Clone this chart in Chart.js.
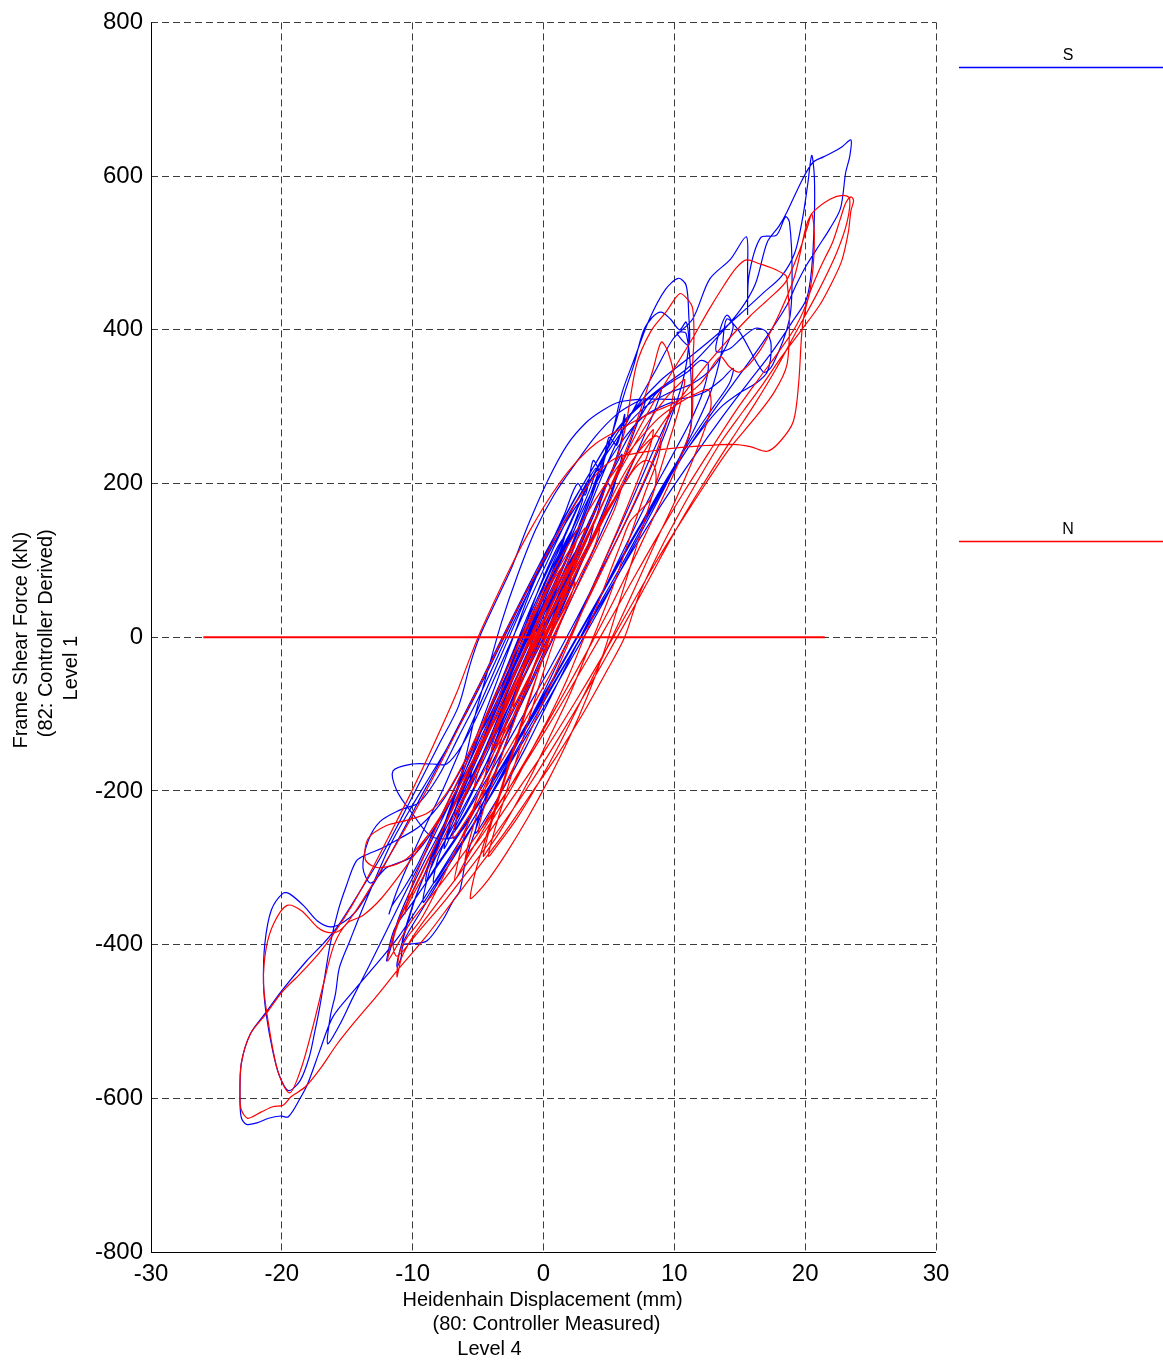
<!DOCTYPE html>
<html><head><meta charset="utf-8">
<script src="https://cdn.jsdelivr.net/npm/chart.js@4.4.1/dist/chart.umd.min.js"></script>
<style>html,body{margin:0;padding:0;background:#fff;}canvas{display:block;}</style>
</head><body>
<canvas id="c" width="1163" height="1362"></canvas>
<script>
const xTicks = [-30, -20, -10, 0, 10, 20, 30];
const yTicks = [-800, -600, -400, -200, 0, 200, 400, 600, 800];
const seriesNames = ['S', 'N'];
const seriesColors = ['#0000ff', '#ff0000'];
const xTitle = ['Heidenhain Displacement (mm)', '(80: Controller Measured)', 'Level 4'];
const yTitle = ['Frame Shear Force (kN)', '(82: Controller Derived)', 'Level 1'];
const zeroLineDisp = [-26, 21.5];
const zeroLineForce = [0, 0];

// S (blue) : [displacement mm, force kN]
const sPoints = [
[0,5],[0.8,35],[1.6,65],[2.2,85],[1.8,62],[0.8,28],[-0.2,-8],[-1.2,-42],[-2,-70],[-1.6,-48],[-0.6,-12],[0.4,25],
[1.4,62],[2.6,105],[3.4,132],[3.8,145],[3.4,120],[2.4,82],[1.2,40],[0,-2],[-1.3,-45],[-2.6,-88],[-3.4,-115],[-3.7,-125],[-3.2,-98],[-2.2,-58],[-1,-15],[0.3,32],
[1.6,80],[2.8,125],[3.8,162],[4.4,178],[4.9,200],[5.3,192],[5.6,212],[5.2,185],[4.2,145],[3,100],[1.6,52],[0.2,5],[-1.2,-42],[-2.7,-92],[-4,-135],[-5,-168],[-5.6,-185],[-5.2,-158],[-4.2,-118],[-3,-72],[-1.6,-22],[-0.2,30],
[1.2,80],[2.6,140],[4,205],[5.2,262],[6.2,318],[6.9,354],[7.6,397],[8.3,416],[9,423],[9.7,414],[10.4,400],[10.9,410],[11.1,382],[10.6,330],[9.4,270],[7.8,205],[6,140],[4.2,80],[2.4,20],[0.5,-40],[-1.5,-100],[-3.5,-160],[-5.3,-212],[-6.6,-248],[-7.3,-262],[-7,-235],[-6.1,-198],[-4.8,-148],[-3.4,-95],[-1.8,-35],[-0.2,25],
[1.2,78],[2.6,135],[4,198],[5.2,262],[6,318],[6.9,360],[8.1,414],[9.3,452],[10.3,467],[10.9,458],[11.1,420],[11.1,380],[10.2,396],[10.9,395],[11.3,330],[11.2,268],[10,220],[8.2,160],[6.3,100],[4.4,40],[2.4,-20],[0.4,-80],[-1.7,-140],[-3.8,-200],[-5.8,-255],[-7.4,-296],[-8.4,-320],[-8.1,-290],[-7.2,-252],[-6,-205],[-4.6,-150],[-3.2,-95],[-1.7,-38],[-0.2,20],
[0.8,58],[1.8,92],[2.4,110],[1.8,80],[0.6,35],[-0.8,-15],[-2.4,-72],[-4,-130],[-5.6,-185],[-7.2,-240],[-8.6,-290],[-9.8,-340],[-10.6,-385],[-11.1,-416],[-11.2,-429],[-10.9,-418],[-10.7,-400],[-10,-399],[-8.9,-395],[-7.7,-368],[-6.9,-343],[-6.4,-330],[-5.9,-287],[-4.8,-232],[-3.6,-172],[-2.3,-110],[-1,-50],[0.4,12],[1.8,72],[3.2,135],[4.5,188],[5.4,220],[6,238],[5.6,210],[4.6,165],[3.2,108],[1.8,52],[0.4,-4],[-1,-58],[-2.4,-110],[-3.6,-152],[-4.4,-178],[-4,-150],[-3,-105],[-1.8,-55],[-0.5,0],
[1,62],[2.5,125],[4,190],[5.5,250],[7,300],[8.5,345],[9.9,388],[11.4,414],[12.7,466],[14.3,492],[15.5,521],[15.6,480],[15.6,420],[15.7,470],[16.6,520],[17.8,523],[18.5,547],[18.8,540],[19,475],[18.8,414],[17.5,354],[16.8,345],[15,397],[14,414],[13.6,370],[12.8,320],[11.5,270],[9.8,215],[8,158],[6,95],[4,35],[2,-25],[0,-85],[-2,-145],[-4,-205],[-6,-262],[-7.8,-312],[-9.2,-352],[-10.2,-380],[-10.8,-398],[-10.4,-370],[-9.6,-330],[-8.4,-280],[-7,-225],[-5.5,-168],[-4,-110],[-2.6,-52],[-1.2,5],
[0,55],[1.2,105],[1.8,125],[1.2,95],[0,45],[-1.5,-10],[-3,-65],[-4.5,-120],[-6,-175],[-7.5,-228],[-9,-280],[-10.5,-330],[-12,-382],[-13.4,-430],[-14.6,-470],[-15.6,-505],[-16.5,-529],[-16.3,-494],[-15.9,-464],[-15.6,-430],[-14.8,-395],[-13.8,-352],[-12.8,-312],[-11.7,-270],[-10.4,-230],[-9,-190],[-7.5,-148],[-6,-102],[-4.5,-52],[-3,0],[-1.5,52],[0,100],[1.4,145],[2.8,185],[3.6,205],
[4.8,238],[6.2,272],[7.8,300],[9.6,318],[11.4,330],[13,352],[14,380],[14.5,405],[14,419],[13.4,395],[13.2,372],[14.2,375],[15.2,390],[16.2,402],[17,398],[17.4,380],[17.1,345],[16.2,330],[15,318],[13.6,300],[12,268],[10.2,225],[8.4,175],[6.5,120],[4.6,62],[2.7,5],[0.8,-52],[-1.2,-110],[-3.2,-168],[-5.2,-222],[-7,-268],[-8.3,-300],[-9,-318],[-8.6,-285],[-7.8,-252],[-6.7,-205],[-5.4,-150],[-4.1,-95],[-2.8,-40],[-1.4,15],
[0,68],[1.6,130],[3.2,190],[5,248],[7,298],[9,335],[11,362],[13,390],[15,420],[16.8,448],[18.2,470],[19.2,500],[19.8,545],[20.2,590],[20.5,627],[20.7,600],[20.7,545],[20.5,480],[20.1,440],[19,410],[17.5,372],[15.6,330],[13.6,285],[11.5,235],[9.3,180],[7,118],[4.8,55],[2.6,-8],[0.4,-70],[-1.8,-132],[-4,-192],[-6.2,-250],[-8.2,-300],[-10,-345],[-11.4,-380],[-12,-421],[-11.6,-400],[-11.2,-372],[-10.4,-338],[-9.2,-295],[-7.8,-250],[-6.4,-200],[-5,-148],[-3.5,-90],[-2,-30],[-0.5,30],
[1,90],[2,125],[2.6,140],[2,112],[0.8,70],[-0.6,20],[-2.2,-38],[-4,-98],[-5.8,-156],[-7.6,-210],[-9.4,-245],[-11,-262],[-12.4,-275],[-13.4,-282],[-14.3,-291],[-15.1,-325],[-15.7,-356],[-16.3,-399],[-16.7,-440],[-17.1,-481],[-17.5,-515],[-17.9,-546],[-18.6,-577],[-19.5,-590],[-20.2,-570],[-20.7,-538],[-21.2,-490],[-21.4,-451],[-21.3,-399],[-20.8,-355],[-19.9,-333],[-19.4,-334],[-18.3,-350],[-17.3,-369],[-16.3,-377],[-15.3,-371],[-14.3,-356],[-13.3,-330],[-12.2,-298],[-11,-260],[-9.6,-215],[-8,-165],[-6.4,-112],[-4.8,-58],[-3.2,-2],[-1.6,52],[0,105],[1.6,155],[3,198],[4.2,232],
[5.6,270],[7.2,300],[9,325],[11,350],[13,385],[15,425],[16.2,460],[17.1,514],[18,535],[18.6,553],[19.8,596],[20.6,618],[21.4,625],[22.1,631],[22.8,638],[23.5,647],[23.4,625],[23.1,605],[22.7,558],[21.9,532],[21,508],[20.1,484],[19.3,458],[18.6,432],[17.3,397],[16,365],[14.5,330],[12.8,290],[11,245],[9,190],[7,132],[5,72],[3,12],[1,-48],[-1,-108],[-3,-168],[-5,-226],[-7,-282],[-9,-336],[-11,-388],[-12.5,-420],[-14.5,-460],[-16.1,-494],[-17.1,-538],[-18,-580],[-18.6,-600],[-19.5,-624],[-20.1,-623],[-21,-626],[-21.9,-632],[-22.7,-634],[-23.1,-625],[-23.2,-600],[-23.1,-555],[-22.4,-516],[-21.2,-488],[-20,-460],[-18.1,-421],[-16.8,-398],[-15.8,-378],[-14,-330],[-12.5,-288],[-11,-240],[-9.5,-190],[-8,-140],[-6.5,-90],[-5.6,-35],[-4.9,0],[-3.6,48],[-2.4,92],[-1.2,145],[0.3,203],[1.8,250],[3.3,280],[4.6,296],[5.8,306],[8,310],[10.4,310],
[12.2,318],[13.6,335],[14.5,350],[14.2,330],[13,300],[11.2,255],[9.2,200],[7.2,140],[5.2,80],[3.2,20],[1.2,-40],[-0.8,-100],[-2.8,-158],[-4.8,-212],[-6.6,-258],[-8.5,-260],[-10,-230],[-11.2,-200],[-11.5,-174],[-10,-165],[-8.5,-165],[-7.4,-165],[-6.2,-140],[-5,-100],[-3.6,-48],[-2.2,5],[-0.8,58],[0.6,110],[2,160],[3.2,198],[4,220],[3.6,195],[2.6,155],[1.4,110],[0.2,62],[-1,15],[-2,-25],[-2.6,-50],
[-4,-110],[-6,-180],[-8,-240],[-10,-285],[-12,-300],[-13.2,-320],[-13.8,-300],[-13.4,-265],[-12.5,-240],[-11,-225],[-9.5,-215],[-8,-180],[-6.5,-130],[-5,-80],[-3.5,-25],[-2,30],[-0.5,80],[1,128],[2.4,168],[3,180],[2.4,150],[1.2,100],[0,55],[-1,15],[-1.6,-10],[-1,10],[0,40],[0.8,60],[0.2,30],[0,10],
[1.5,70],[3,130],[4.5,190],[6,245],[7.5,290],[8.5,315],[9,322],[8.6,300],[7.4,250],[6,195],[4.4,135],[2.8,75],[1.2,15],[-0.5,-45],[-2.2,-105],[-3.8,-160],[-5.2,-205],[-6.2,-235],[-6.8,-250],[-6.4,-225],[-5.4,-185],[-4.2,-135],[-2.8,-75],[-1.4,-15],[0,45],
[1.5,105],[3,165],[4.5,215],[6,255],[7.5,285],[9,300],[10,305],[9.4,280],[8.2,235],[6.8,180],[5.2,120],[3.6,60],[2,0],[0.2,-65],[-1.6,-125],[-3.4,-185],[-5.2,-240],[-7,-290],[-8.4,-325],[-9.2,-345],[-8.8,-310],[-8,-270],[-7,-220],[-6,-160],[-5.2,-100],[-4.2,-40],[-3.2,20],[-2,80],[-0.6,140],[0.8,185],
[2.4,225],[4,262],[5.6,290],[7,305],[7.8,310],[7.2,280],[6,225],[4.6,165],[3,100],[1.4,40],[-0.2,-20],[-2,-85],[-3.8,-145],[-5.6,-205],[-7.2,-255],[-8.2,-285],[-8.6,-300],[-8,-265],[-7,-215],[-5.8,-160],[-4.6,-105],[-3.4,-50],[-2.2,5],[-1,60],[0.4,115],
[1.6,160],[2.6,200],[3.2,185],[3.8,230],[4.4,215],[5,260],[5.6,250],[6.2,290],[6,260],[5.2,215],[4,165],[2.6,110],[1.2,55],[-0.2,0],[-1.6,-55],[-3,-110],[-4.4,-165],[-5.8,-215],[-7,-255],[-7.6,-275],[-7.2,-245],[-6.2,-200],[-5,-150],[-3.8,-95],[-2.6,-40],[-1.4,15],[-0.2,70],
[1,115],[1.6,130],[1,100],[-0.2,50],[-1.8,-10],[-3.4,-70],[-5,-130],[-6.6,-190],[-8.2,-245],[-9.6,-295],[-10.8,-330],[-11.6,-350],[-11.8,-360],[-11.2,-330],[-10.2,-290],[-9,-245],[-7.6,-195],[-6.2,-140],[-4.8,-85],[-3.4,-30],[-2,25],[-0.6,80],[0.8,130],[2.2,175],
[3.6,215],[5,255],[6.4,285],[8,310],[9.6,330],[11,345],[12,360],[12.6,355],[12.2,320],[11.2,280],[9.8,235],[8.2,185],[6.6,130],[5,75],[3.4,20],[1.8,-35],[0.2,-90],[-1.4,-145],[-3,-195],[-4.4,-235],[-5.2,-255],[-4.8,-225],[-3.8,-180],[-2.6,-125],[-1.4,-70],[-0.2,-15],[1,40],[2,85],
[3,130],[3.8,160],[4.4,180],[4,155],[3,115],[1.8,70],[0.5,25],[-0.8,-25],[-2.2,-75],[-3.6,-125],[-5,-175],[-6.2,-215],[-6.8,-232],[-6.4,-205],[-5.4,-165],[-4.2,-115],[-3,-62],[-1.8,-10],[-0.6,40],[0.6,88],[1.6,122],
[2.2,140],[1.6,112],[0.6,72],[-0.6,28],[-1.8,-18],[-3,-62],[-4,-98],[-4.6,-118],[-4.2,-95],[-3.2,-55],[-2,-5],[-0.8,45],[0.4,90],[1.4,125],[2.6,170],[3.6,205],[4.2,218],[3.8,190],[2.8,145],[1.6,95],[0.4,48],[-0.6,8],[0,20]
];

// N (red) : [displacement mm, force kN]
const nPoints = [
[0,-5],[0.9,25],[1.8,55],[2.4,72],[2,50],[1,18],[0,-15],[-1,-48],[-1.9,-78],[-2.3,-90],[-1.9,-64],[-0.9,-30],[0.2,8],
[1.4,48],[2.8,95],[3.8,128],[4.3,142],[3.9,118],[2.8,80],[1.5,36],[0.2,-8],[-1.2,-55],[-2.6,-102],[-3.6,-135],[-4,-148],[-3.5,-118],[-2.4,-75],[-1.2,-30],[0.1,15],
[1.6,62],[3,108],[4.4,150],[5.4,178],[5.9,192],[5.4,165],[4.3,125],[3,80],[1.6,32],[0.2,-18],[-1.3,-70],[-2.8,-118],[-4.1,-160],[-5,-188],[-5.3,-196],[-4.8,-165],[-3.8,-122],[-2.5,-72],[-1.2,-22],[0.2,28],
[1.8,80],[3.4,135],[5,192],[6.4,248],[7.5,300],[8.4,350],[9,384],[9.5,372],[10,335],[9.6,290],[8.4,232],[6.8,170],[5,105],[3.2,42],[1.4,-20],[-0.5,-80],[-2.4,-138],[-4.2,-190],[-5.8,-235],[-6.9,-262],[-6.6,-232],[-5.6,-192],[-4.2,-138],[-2.8,-82],[-1.2,-22],[0.3,30],
[1.8,85],[3.4,145],[5,205],[6.2,268],[7.1,354],[8.2,398],[9.4,424],[10.4,447],[11,440],[11.4,428],[11.5,390],[11.4,354],[11.4,300],[11.2,268],[10.2,222],[8.8,170],[7.2,112],[5.5,52],[3.6,-10],[1.6,-72],[-0.4,-132],[-2.4,-190],[-4.4,-245],[-6,-292],[-6.8,-317],[-6.5,-290],[-6,-255],[-5,-205],[-3.8,-150],[-2.4,-90],[-1,-30],[0.4,25],
[2,78],[3.6,138],[5.2,198],[6.8,255],[8.4,305],[10,350],[11.5,392],[12.6,425],[13.8,458],[14.7,480],[15.5,491],[16.5,486],[17.5,480],[18.5,471],[18.6,467],[18.8,414],[18.6,354],[17.6,318],[16,282],[14.2,245],[12.4,200],[10.5,150],[8.5,95],[6.5,35],[4.5,-25],[2.4,-85],[0.2,-145],[-2,-200],[-4.2,-255],[-6.3,-305],[-8.2,-348],[-9.8,-385],[-10.8,-415],[-11.2,-442],[-11,-410],[-10.4,-390],[-9.4,-368],[-8.2,-330],[-6.8,-280],[-5.3,-225],[-3.8,-165],[-2.3,-102],[-0.8,-40],[0.6,18],
[2.2,75],[4,135],[6,195],[8,250],[10,300],[12,345],[14,385],[15.8,418],[17.2,440],[18.5,462],[19.5,500],[20.2,535],[20.5,551],[20.7,525],[20.6,480],[20.2,440],[19.3,405],[18,372],[16.4,335],[14.6,292],[12.7,242],[10.7,188],[8.6,128],[6.5,65],[4.4,2],[2.3,-60],[0.2,-120],[-2,-180],[-4.2,-236],[-6.4,-288],[-8.4,-333],[-10.2,-372],[-11.9,-421],[-11.6,-395],[-11,-365],[-10,-330],[-8.8,-288],[-7.4,-240],[-5.9,-186],[-4.4,-130],[-2.9,-72],[-1.4,-14],[0,40],
[1.5,92],[2.6,128],[3.2,142],[2.6,112],[1.3,65],[-0.2,12],[-1.8,-45],[-3.6,-105],[-5.4,-162],[-7.2,-215],[-9,-262],[-10.8,-305],[-12.4,-340],[-13.8,-362],[-15,-372],[-16,-400],[-16.8,-450],[-17.6,-505],[-18.5,-560],[-19.4,-593],[-20.3,-565],[-21,-505],[-21.4,-451],[-21.2,-405],[-20.6,-372],[-19.6,-349],[-18.5,-356],[-17.3,-377],[-16.5,-384],[-15.6,-382],[-14.5,-360],[-13.2,-325],[-11.8,-285],[-10.2,-238],[-8.6,-188],[-7,-135],[-5.4,-80],[-3.8,-25],[-2.2,30],[-0.6,82],[1,132],[2.6,178],[4.2,215],
[5.4,232],[6.6,238],[8.1,242],[10,246],[12,249],[14.5,251],[15.8,248],[17.1,242],[18.1,255],[19.1,281],[19.5,330],[19.8,406],[20.3,445],[20.9,471],[21.5,493],[22.1,514],[22.7,545],[23.1,565],[23.5,573],[23.7,568],[23.5,555],[23.3,527],[22.8,490],[22,460],[21.1,432],[19.6,397],[18.2,365],[16.8,330],[15.3,295],[13.6,255],[12,210],[10.4,162],[8.8,110],[7.3,55],[6.2,0],[4.8,-45],[3,-100],[1,-155],[-1,-205],[-3,-255],[-5,-300],[-7,-345],[-9,-390],[-11,-430],[-12.8,-468],[-14.4,-500],[-15.8,-530],[-17,-560],[-18.2,-585],[-19.3,-598],[-19.9,-609],[-20.7,-611],[-21.6,-618],[-22.6,-626],[-23.1,-615],[-23.2,-598],[-23.1,-555],[-22.4,-516],[-21.2,-490],[-20,-462],[-18.6,-438],[-17.2,-412],[-16,-385],[-14.6,-348],[-13.2,-305],[-11.6,-252],[-10,-198],[-8.4,-140],[-6.7,-75],[-5.8,-35],[-5,0],[-3.8,45],[-2.4,95],[-1,140],[0.6,185],[2.2,222],[4,252],[6,272],[8,290],[10,305],
[12,330],[13.5,365],[14.2,352],[15,345],[16.5,372],[18,420],[19.2,470],[20.1,536],[20.6,553],[21.9,570],[22.9,575],[23.4,571],[23.2,540],[22.4,500],[21,450],[19.4,400],[17.8,350],[16.2,305],[14.4,258],[12.6,210],[10.8,160],[9,105],[7.2,48],[5.3,-10],[3.3,-70],[1.2,-130],[-1,-190],[-3.2,-245],[-5.4,-296],[-7.5,-342],[-9.5,-382],[-11.2,-415],[-11.5,-395],[-10.8,-360],[-9.6,-318],[-8.2,-268],[-6.7,-212],[-5.2,-152],[-3.7,-90],[-2.2,-30],[-0.8,25],[0.6,70],[1.4,90],[0.6,55],
[-0.8,5],[-2.5,-60],[-4.5,-130],[-6.5,-195],[-8.5,-250],[-10.6,-290],[-12.6,-300],[-13.6,-290],[-13.4,-262],[-12,-245],[-10.4,-238],[-8.8,-228],[-7.5,-205],[-6,-160],[-4.5,-105],[-3,-50],[-1.5,5],[0,55],[1.5,100],[2.5,125],[1.8,95],[0.5,50],[-0.5,15],[-1.2,-12],[-0.4,10],[0.5,40],[1.5,72],[2.5,100],[1.8,72],[0.5,30],[0,0],
[1.5,50],[3,100],[4.5,150],[6,200],[7.2,240],[8,262],[8.4,270],[8,240],[7,195],[5.8,145],[4.4,90],[3,35],[1.6,-20],[0.2,-75],[-1.2,-130],[-2.6,-180],[-3.8,-220],[-4.6,-245],[-5,-255],[-4.6,-225],[-3.8,-185],[-2.8,-135],[-1.6,-80],[-0.4,-25],[0.8,25],
[2.2,85],[3.6,140],[5,190],[6.6,240],[8,280],[9.4,312],[10.4,330],[10.8,335],[10.4,300],[9.6,255],[8.6,200],[7.6,145],[6.6,90],[5.6,35],[4.6,-20],[3.4,-75],[2,-130],[0.4,-185],[-1.2,-235],[-2.8,-280],[-4.2,-315],[-5.2,-335],[-5.6,-340],[-5.2,-305],[-4.4,-260],[-3.4,-205],[-2.4,-150],[-1.4,-95],[-0.3,-40],[0.8,15],
[2,75],[3.4,120],[4.6,160],[5.6,195],[6.6,225],[7.6,248],[8.6,262],[9,255],[8.6,225],[7.8,190],[7,150],[6.2,110],[5.4,70],[4.4,25],[3.2,-25],[2,-75],[0.6,-125],[-0.8,-175],[-2.2,-220],[-3.4,-255],[-4.2,-275],[-4.6,-285],[-4.2,-255],[-3.4,-210],[-2.4,-155],[-1.4,-100],[-0.4,-45],[0.6,10],
[1.6,60],[2.8,100],[4,140],[5.2,175],[6.2,200],[7,220],[7.8,230],[8.4,225],[8.6,205],[8.2,180],[7.4,165],[6.6,150],[6,125],[5.2,90],[4.2,45],[3,-5],[1.8,-55],[0.4,-105],[-1,-150],[-2.4,-195],[-3.8,-235],[-5,-265],[-5.8,-282],[-6,-290],[-5.6,-260],[-4.8,-215],[-3.8,-165],[-2.8,-110],[-1.8,-55],[-0.8,0],[0.2,45],
[1.2,70],[2,95],[1.4,70],[0.2,25],[-1.4,-35],[-3,-95],[-4.6,-155],[-6.2,-210],[-7.6,-260],[-8.8,-300],[-9.8,-330],[-10.4,-350],[-10.6,-360],[-10.2,-330],[-9.4,-295],[-8.4,-255],[-7.2,-210],[-5.8,-160],[-4.4,-105],[-3,-50],[-1.6,5],[-0.2,55],[1.2,100],[2.6,140],
[4,180],[5.6,220],[7.2,255],[8.8,285],[10.4,305],[11.8,318],[12.6,322],[12.8,300],[12.2,265],[11.2,222],[10,175],[8.6,125],[7.2,72],[5.8,20],[4.4,-30],[2.8,-85],[1.2,-140],[-0.4,-190],[-2,-235],[-3.4,-268],[-4.2,-285],[-3.8,-255],[-3,-210],[-2,-155],[-1,-100],[0,-45],[1,5],[1.8,40]
];

const FONT = '"Liberation Sans", Arial, Helvetica, sans-serif';
const toXY = arr => arr.map(p => ({x: p[0], y: p[1]}));

const annotations = {
  id: 'annotations',
  afterDraw(chart) {
    const {ctx, chartArea: a} = chart;
    ctx.save();
    ctx.fillStyle = '#000';
    ctx.textAlign = 'center';
    ctx.textBaseline = 'middle';
    ctx.font = '20px ' + FONT;
    const cx = (a.left + a.right) / 2;
    ctx.fillText(xTitle[0], cx - 1, a.bottom + 48);
    ctx.fillText(xTitle[1], cx + 3, a.bottom + 72);
    ctx.fillText(xTitle[2], cx - 54, a.bottom + 97);
    const cy = (a.top + a.bottom) / 2;
    const yPos = [[21, cy + 3], [46, cy - 4], [71, cy + 31]];
    yTitle.forEach((t, i) => {
      ctx.save();
      ctx.translate(yPos[i][0], yPos[i][1]);
      ctx.rotate(-Math.PI / 2);
      ctx.fillText(t, 0, 0);
      ctx.restore();
    });
    ctx.strokeStyle = '#000';
    ctx.lineWidth = 1;
    ctx.beginPath();
    ctx.moveTo(Math.round(a.left) + 0.5, a.top);
    ctx.lineTo(Math.round(a.left) + 0.5, Math.round(a.bottom) + 0.5);
    ctx.lineTo(a.right, Math.round(a.bottom) + 0.5);
    ctx.stroke();
    const legendY = [67, 541];
    ctx.font = '16px ' + FONT;
    seriesNames.forEach((name, i) => {
      ctx.fillStyle = '#000';
      ctx.fillText(name, 1068, legendY[i] - 11);
      ctx.strokeStyle = seriesColors[i];
      ctx.lineWidth = 1.3;
      ctx.beginPath();
      ctx.moveTo(959, legendY[i] + 0.5);
      ctx.lineTo(1163, legendY[i] + 0.5);
      ctx.stroke();
    });
    ctx.restore();
  }
};

const gridColor = '#3c3c3c';
new Chart(document.getElementById('c'), {
  type: 'scatter',
  data: {
    datasets: [
      {label: 'zero', data: zeroLineDisp.map((x, i) => ({x, y: zeroLineForce[i]})), showLine: true, borderColor: '#ff0000', borderWidth: 2, pointRadius: 0, tension: 0},
      {label: seriesNames[1], data: toXY(nPoints), showLine: true, borderColor: seriesColors[1], borderWidth: 1.2, pointRadius: 0, tension: 0.3},
      {label: seriesNames[0], data: toXY(sPoints), showLine: true, borderColor: seriesColors[0], borderWidth: 1.2, pointRadius: 0, tension: 0.3}
    ]
  },
  options: {
    responsive: false,
    animation: false,
    events: [],
    layout: {padding: {top: 20, right: 227, bottom: 0, left: 0}},
    plugins: {legend: {display: false}, tooltip: {enabled: false}},
    scales: {
      x: {
        type: 'linear', min: -30, max: 30,
        afterBuildTicks: s => { s.ticks = xTicks.map(v => ({value: v})); },
        afterFit: s => { s.height = 110; },
        grid: {color: gridColor, lineWidth: 1, drawTicks: false},
        border: {display: false, dash: [7, 4]},
        ticks: {color: '#000', font: {size: 24, family: FONT}, padding: 8, maxRotation: 0, autoSkip: false}
      },
      y: {
        type: 'linear', min: -800, max: 800,
        afterBuildTicks: s => { s.ticks = yTicks.map(v => ({value: v})); },
        afterFit: s => { s.width = 151; },
        grid: {color: gridColor, lineWidth: 1, drawTicks: false},
        border: {display: false, dash: [7, 4]},
        ticks: {color: '#000', font: {size: 24, family: FONT}, padding: 8, autoSkip: false}
      }
    }
  },
  plugins: [annotations]
});
</script>
</body></html>
